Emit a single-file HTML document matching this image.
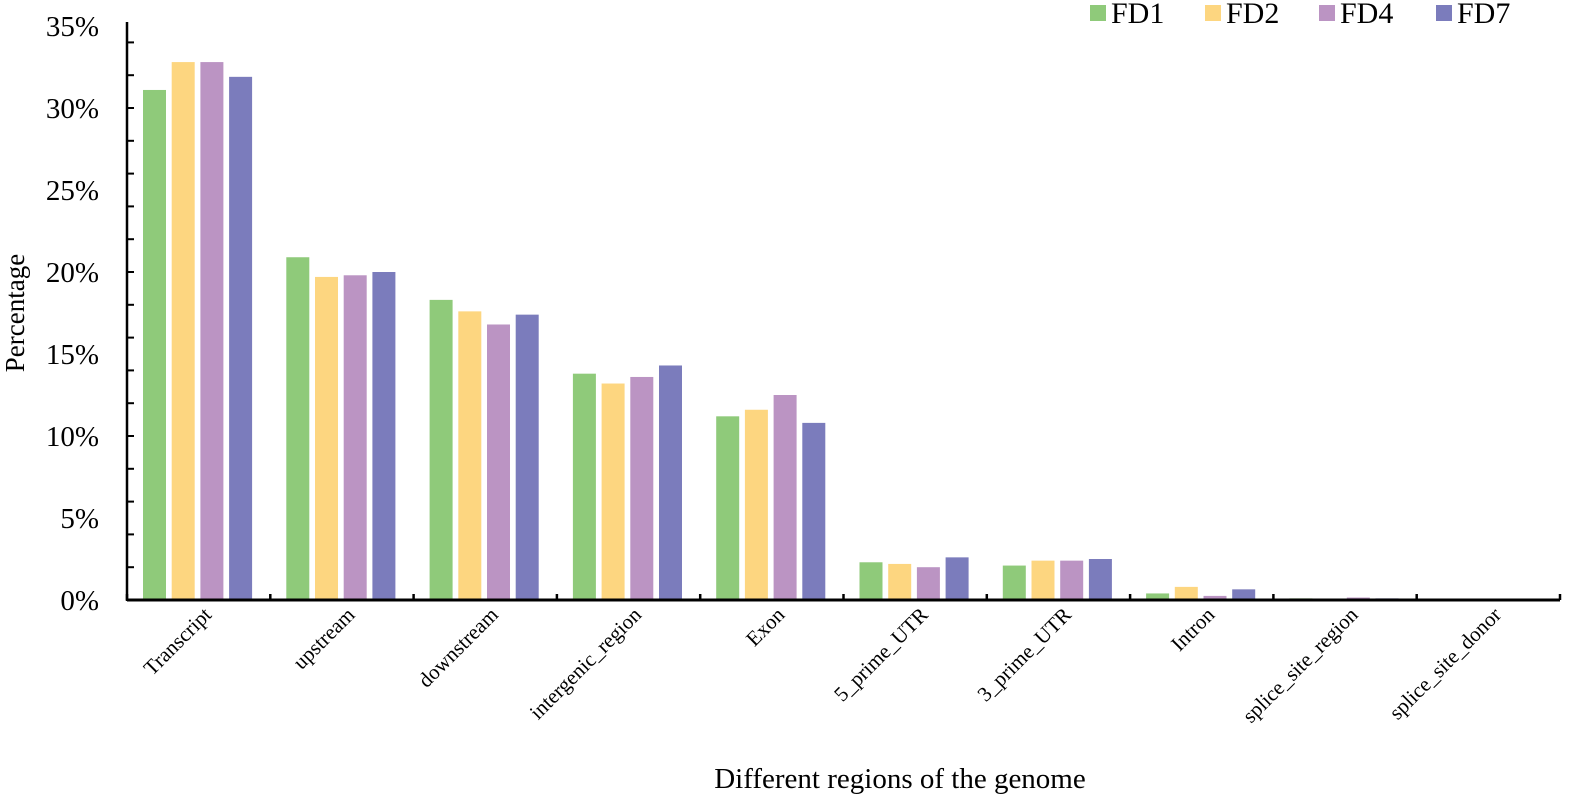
<!DOCTYPE html>
<html><head><meta charset="utf-8"><style>
html,body{margin:0;padding:0;background:#fff}
svg{display:block;font-family:"Liberation Serif",serif}
</style></head><body>
<svg id="chart" width="1592" height="808" viewBox="0 0 1592 808">
<g id="plot"></g>
</svg>
<script>
const categories=["Transcript","upstream","downstream","intergenic_region","Exon","5_prime_UTR","3_prime_UTR","Intron","splice_site_region","splice_site_donor"];
const seriesNames=["FD1","FD2","FD4","FD7"];
const fd1=[31.1,20.9,18.3,13.8,11.2,2.3,2.1,0.4,0.1,0];
const fd2=[32.8,19.7,17.6,13.2,11.6,2.2,2.4,0.8,0.05,0];
const fd4=[32.8,19.8,16.8,13.6,12.5,2.0,2.4,0.25,0.15,0];
const fd7=[31.9,20.0,17.4,14.3,10.8,2.6,2.5,0.65,0.1,0];
const yTickLabels=[0,5,10,15,20,25,30,35];
const colors=["#8fca7a","#fdd680","#bb94c3","#7b7cbc"];
const ns="http://www.w3.org/2000/svg";
const svg=document.getElementById('chart');
const x0=127,x1=1560,y0=600,pxPer=16.4;
const gw=(x1-x0)/categories.length;
function y(v){return y0-v*pxPer;}
function mk(t,a){const e=document.createElementNS(ns,t);for(const k in a)e.setAttribute(k,a[k]);svg.appendChild(e);return e;}
const series=[fd1,fd2,fd4,fd7];
series.forEach((s,si)=>{s.forEach((v,ci)=>{
 const r=mk('rect',{x:x0+ci*gw+16+si*28.7,y:y(v),width:23,height:v*pxPer,fill:colors[si]});
 
 
});});
const ya=mk('line',{x1:x0,y1:22,x2:x0,y2:y0+1,stroke:'#000','stroke-width':2.5});


for(let v=0;v<=34;v+=2){mk('line',{x1:x0,x2:x0+7,y1:y(v),y2:y(v),stroke:'#000','stroke-width':2});}
yTickLabels.forEach(v=>{const t=mk('text',{x:99,y:y(v)+10,'text-anchor':'end','font-size':29});t.textContent=v+'%';
 
 });
const xa=mk('line',{x1:x0,y1:y0,x2:x1,y2:y0,stroke:'#000','stroke-width':3});


for(let i=0;i<=categories.length;i++){mk('line',{x1:x0+i*gw,x2:x0+i*gw,y1:y0-6,y2:y0,stroke:'#000','stroke-width':2.5});}
categories.forEach((c,i)=>{const cx=x0+i*gw+gw/2+14;const t=mk('text',{x:cx,y:616,'text-anchor':'end','font-size':21,transform:`rotate(-45 ${cx} 616)`});t.textContent=c;
 
 });
const yt=mk('text',{x:0,y:0,'text-anchor':'middle','font-size':27,transform:'translate(24 313) rotate(-90)'});yt.textContent='Percentage';


const xt=mk('text',{x:900,y:788,'text-anchor':'middle','font-size':29});xt.textContent='Different regions of the genome';


const lx=[1108,1223,1337,1454];
seriesNames.forEach((n,i)=>{
 const g=document.createElementNS(ns,'g');svg.appendChild(g);
 
 
 const r=document.createElementNS(ns,'rect');r.setAttribute('x',lx[i]-18);r.setAttribute('y',5);r.setAttribute('width',16);r.setAttribute('height',16);r.setAttribute('fill',colors[i]);g.appendChild(r);
 const t=document.createElementNS(ns,'text');t.setAttribute('x',lx[i]+3);t.setAttribute('y',23);t.setAttribute('font-size',30);t.textContent=n;g.appendChild(t);
});
</script>
</body></html>
